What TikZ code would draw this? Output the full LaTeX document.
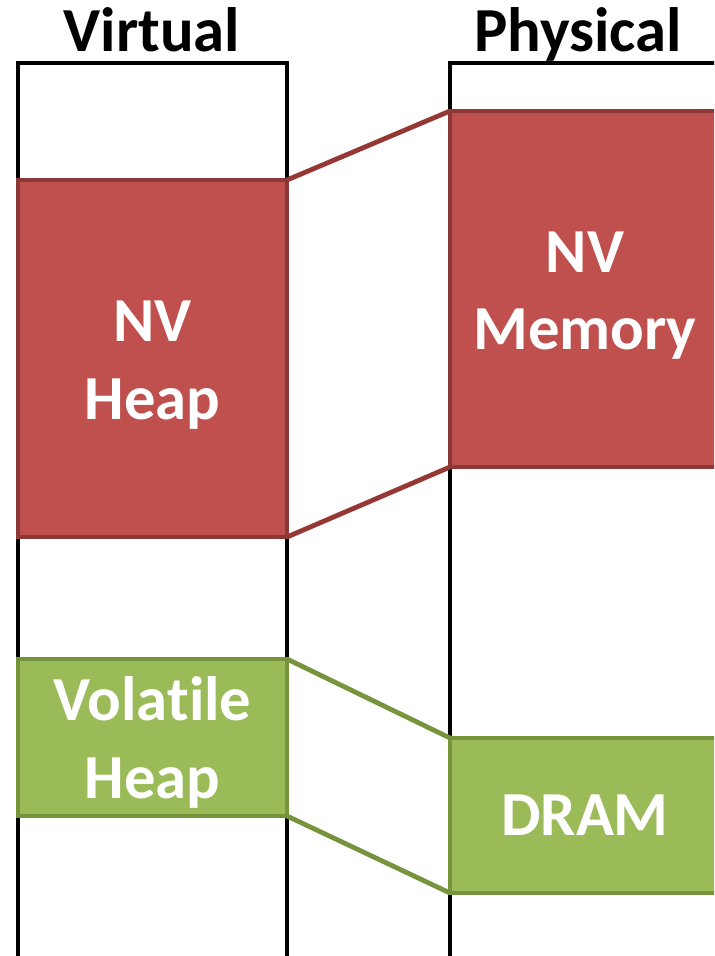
\documentclass[tikz,border=0pt]{standalone}
\usepackage{fontspec}
\setmainfont{Carlito}[Ligatures=NoCommon]
\usetikzlibrary{positioning}
\definecolor{ink}{HTML}{000000}
\definecolor{nvfill}{HTML}{C0504D}
\definecolor{nvedge}{HTML}{8C3836}
\definecolor{nvlink}{HTML}{953735}
\definecolor{vofill}{HTML}{9BBB59}
\definecolor{voedge}{HTML}{77933C}
\tikzset{
  column/.style={ink,line width=3pt},
  region/.style={rectangle,line width=3pt,outer sep=0pt,inner sep=0pt,
    text=white,align=center,font=\fontsize{47}{58}\selectfont\bfseries},
  nvbox/.style={region,fill=nvfill,draw=nvedge},
  vobox/.style={region,fill=vofill,draw=voedge},
  nvmap/.style={nvlink,line width=3.6pt},
  vomap/.style={voedge,line width=3.6pt},
  ttl/.style={font=\fontsize{47}{56}\selectfont\bfseries,inner sep=0pt,anchor=base},
}
\begin{document}
\begin{tikzpicture}[x=0.75pt,y=-0.75pt]
  \useasboundingbox (0,0) rectangle (714,956);
  \clip (0,0) rectangle (714,956);
  % ---------- address space columns ----------
  \draw[column] (18,960) |- (287,63) -- (287,960);
  \draw[column] (450,960) |- (720,63) -- (720,960);
  \node[ttl] (virt) at (152,52) {Virtual};
  \node[ttl] (phys) at (578,52) {Physical};
  % ---------- regions ----------
  \node[nvbox,minimum width=201.75pt,minimum height=267.75pt] (nvheap) at (152.5,358.5) {\strut NV\\Heap};
  \node[nvbox,minimum width=202.5pt,minimum height=267pt] (nvmem) at (585,289) {\strut NV\\Memory};
  \node[vobox,minimum width=201.75pt,minimum height=117.75pt] (volheap) at (152.5,737.5) {\strut Volatile\\Heap};
  \node[vobox,minimum width=202.5pt,minimum height=116.25pt] (dram) at (585,815.5) {DRAM};
  % ---------- mappings ----------
  \draw[nvmap] (nvheap.north east) -- (nvmem.north west);
  \draw[nvmap] (nvheap.south east) -- (nvmem.south west);
  \draw[vomap] (volheap.north east) -- (dram.north west);
  \draw[vomap] (volheap.south east) -- (dram.south west);
\end{tikzpicture}
\end{document}
